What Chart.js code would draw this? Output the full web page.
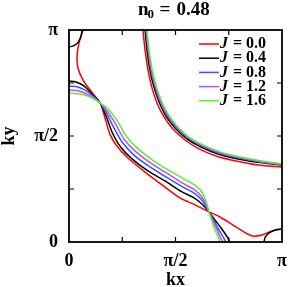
<!DOCTYPE html>
<html>
<head>
<meta charset="utf-8">
<script src="https://cdn.jsdelivr.net/npm/chart.js@4.4.0/dist/chart.umd.min.js"></script>
<style>
  body { margin: 0; background: #fff; }
  #wrap { width: 291px; height: 287px; }
</style>
</head>
<body>
<div id="wrap"><canvas id="fermi"></canvas></div>
<script>
// Fermi surface contours, kx and ky given in units of pi
const jValues = ["0.0", "0.4", "0.8", "1.2", "1.6"];
const lineColors = ["#ff0000", "#000000", "#3355ff", "#c04cff", "#5cf02c"];
const tickNames = { 0: "0", 0.5: "π/2", 1: "π" };
const density = "0.48";

const lowerJ00 = [[0.066,1.0],[0.047,0.939],[0.038,0.877],[0.042,0.821],[0.066,0.764],[0.103,0.712],[0.146,0.656],[0.169,0.585],[0.192,0.509],[0.225,0.453],[0.277,0.396],[0.357,0.330],[0.451,0.259],[0.521,0.208],[0.592,0.175],[0.657,0.142],[0.709,0.118],[0.770,0.080],[0.822,0.047],[0.864,0.028],[0.906,0.033],[0.953,0.052],[1,0.061]];
const upperJ00 = [[0.347,1],[0.357,0.906],[0.371,0.811],[0.390,0.726],[0.413,0.656],[0.446,0.590],[0.488,0.533],[0.545,0.481],[0.610,0.439],[0.690,0.406],[0.784,0.382],[0.887,0.363],[1,0.354]];

const lowerJ04 = [[0,0.759],[0.033,0.755],[0.070,0.736],[0.108,0.698],[0.146,0.656],[0.174,0.594],[0.202,0.519],[0.239,0.453],[0.296,0.392],[0.371,0.335],[0.451,0.288],[0.531,0.236],[0.587,0.208],[0.624,0.179],[0.657,0.142],[0.685,0.104],[0.714,0.066],[0.737,0.033],[0.756,0]];
const upperJ04 = [[0.357,1],[0.366,0.906],[0.380,0.811],[0.399,0.731],[0.423,0.660],[0.455,0.594],[0.498,0.538],[0.554,0.486],[0.620,0.448],[0.700,0.415],[0.793,0.392],[0.897,0.375],[1,0.363]];
const cornerTopJ04 = [[0,0.920],[0.023,0.926],[0.043,0.943],[0.056,0.969],[0.061,1]];
const cornerBottomJ04 = [[0.915,0],[0.922,0.024],[0.940,0.043],[0.968,0.057],[1,0.061]];

const lowerJ08 = [[0,0.736],[0.042,0.731],[0.089,0.708],[0.146,0.656],[0.178,0.604],[0.211,0.538],[0.249,0.472],[0.305,0.410],[0.380,0.354],[0.455,0.307],[0.535,0.259],[0.587,0.231],[0.624,0.198],[0.657,0.142],[0.681,0.099],[0.704,0.057],[0.723,0.024],[0.737,0]];
const upperJ08 = [[0.362,1],[0.371,0.906],[0.385,0.811],[0.404,0.736],[0.427,0.665],[0.460,0.599],[0.502,0.542],[0.559,0.491],[0.624,0.453],[0.704,0.420],[0.798,0.396],[0.901,0.377],[1,0.366]];

const lowerJ12 = [[0,0.717],[0.047,0.712],[0.094,0.693],[0.146,0.656],[0.183,0.613],[0.221,0.552],[0.258,0.486],[0.315,0.425],[0.390,0.368],[0.465,0.321],[0.540,0.274],[0.592,0.245],[0.624,0.212],[0.643,0.179],[0.657,0.142],[0.676,0.099],[0.695,0.057],[0.709,0.024],[0.723,0]];
const upperJ12 = [[0.364,1],[0.373,0.906],[0.387,0.811],[0.406,0.736],[0.430,0.665],[0.462,0.601],[0.505,0.545],[0.561,0.493],[0.627,0.455],[0.707,0.422],[0.800,0.398],[0.903,0.379],[1,0.367]];

const lowerJ16 = [[0,0.703],[0.052,0.698],[0.099,0.684],[0.146,0.656],[0.188,0.623],[0.230,0.566],[0.268,0.500],[0.324,0.439],[0.399,0.382],[0.474,0.335],[0.549,0.292],[0.596,0.264],[0.624,0.236],[0.643,0.193],[0.657,0.142],[0.671,0.099],[0.685,0.057],[0.700,0.024],[0.709,0]];
const upperJ16 = [[0.366,1],[0.376,0.906],[0.390,0.816],[0.408,0.741],[0.432,0.670],[0.465,0.604],[0.507,0.547],[0.563,0.495],[0.629,0.458],[0.709,0.425],[0.803,0.401],[0.906,0.382],[1,0.368]];

const branches = [
  [lowerJ00, upperJ00],
  [lowerJ04, upperJ04, cornerTopJ04, cornerBottomJ04],
  [lowerJ08, upperJ08],
  [lowerJ12, upperJ12],
  [lowerJ16, upperJ16]
];

const serif = "'Liberation Serif', 'DejaVu Serif', serif";

let datasets = [];
branches.forEach((list, i) => {
  list.forEach((pts) => {
    datasets.push({
      label: "J = " + jValues[i],
      data: pts.map((p) => ({ x: p[0], y: p[1] })),
      showLine: true,
      borderColor: lineColors[i],
      borderWidth: 1.5,
      pointRadius: 0,
      tension: 0.3,
      fill: false,
      order: branches.length - i
    });
  });
});

// frame with inward ticks, like the original plot
const framePlugin = {
  id: "frame",
  afterDatasetsDraw(chart) {
    const ctx = chart.ctx;
    const a = chart.chartArea;
    const xs = chart.scales.x, ys = chart.scales.y;
    ctx.save();
    ctx.strokeStyle = "#000";
    ctx.lineWidth = 1.2;
    ctx.beginPath();
    xs.ticks.forEach((t) => {
      if (t.value <= 0 || t.value >= 1) return;
      const px = xs.getPixelForValue(t.value);
      ctx.moveTo(px, a.bottom); ctx.lineTo(px, a.bottom - 5);
      ctx.moveTo(px, a.top); ctx.lineTo(px, a.top + 5);
    });
    ys.ticks.forEach((t) => {
      if (t.value <= 0 || t.value >= 1) return;
      const py = ys.getPixelForValue(t.value);
      ctx.moveTo(a.left, py); ctx.lineTo(a.left + 5, py);
      ctx.moveTo(a.right, py); ctx.lineTo(a.right - 5, py);
    });
    ctx.stroke();
    ctx.lineWidth = 1.8;
    ctx.strokeRect(a.left, a.top, a.right - a.left, a.bottom - a.top);
    ctx.restore();
  }
};

// title n0 = 0.48 centred over the plot area, and the J legend inside it
const textPlugin = {
  id: "texts",
  afterDraw(chart) {
    const ctx = chart.ctx;
    const a = chart.chartArea;
    const cx = (a.left + a.right) / 2;
    ctx.save();
    ctx.fillStyle = "#000";
    ctx.textBaseline = "alphabetic";
    ctx.font = "bold 19px " + serif;
    ctx.fillText("n", cx - 37.5, 15);
    ctx.fillText("=", cx - 16, 15);
    ctx.fillText(density, cx + 1, 15);
    ctx.font = "bold 13px " + serif;
    ctx.fillText("0", cx - 28, 18);

    ctx.textBaseline = "middle";
    jValues.forEach((j, i) => {
      const y = a.top + 14 + i * 14.2;
      const x0 = a.right - 83;
      ctx.strokeStyle = lineColors[i];
      ctx.lineWidth = 1.5;
      ctx.beginPath();
      ctx.moveTo(x0, y); ctx.lineTo(x0 + 20, y);
      ctx.stroke();
      ctx.font = "italic bold 16px " + serif;
      ctx.fillText("J", x0 + 21, y);
      ctx.font = "bold 16px " + serif;
      ctx.fillText("=", x0 + 34, y);
      ctx.fillText(j, x0 + 47, y);
    });
    ctx.restore();
  }
};

const ctx = document.getElementById("fermi").getContext("2d");
const fermiChart = new Chart(ctx, {
  type: "scatter",
  data: { datasets: datasets },
  options: {
    responsive: true,
    maintainAspectRatio: false,
    animation: false,
    layout: { padding: { left: 0, right: 9, top: 30, bottom: 0 } },
    plugins: {
      legend: { display: false },
      tooltip: { enabled: false },
      title: { display: false }
    },
    scales: {
      x: {
        type: "linear",
        min: 0, max: 1,
        afterFit: (s) => { s.height = 45; s.paddingLeft = 0; s.paddingRight = 0; },
        border: { display: false },
        grid: { drawOnChartArea: false, drawTicks: false },
        ticks: {
          stepSize: 0.25, padding: 9, color: "#000", maxRotation: 0, autoSkip: false,
          font: { family: serif, size: 18, weight: "bold" },
          callback: (v) => tickNames[v] ?? ""
        },
        title: {
          display: true, text: "kx", color: "#000", padding: { top: 0, bottom: -2 },
          font: { family: serif, size: 18, weight: "bold", lineHeight: 1 }
        }
      },
      y: {
        type: "linear",
        min: 0, max: 1,
        afterFit: (s) => { s.width = 69; s.paddingTop = 0; s.paddingBottom = 0; },
        border: { display: false },
        grid: { drawOnChartArea: false, drawTicks: false },
        ticks: {
          stepSize: 0.25, padding: 11, color: "#000", autoSkip: false,
          font: { family: serif, size: 18, weight: "bold" },
          callback: (v) => tickNames[v] ?? ""
        },
        title: {
          display: true, text: "ky", color: "#000", padding: 0,
          font: { family: serif, size: 18, weight: "bold", lineHeight: 1 }
        }
      }
    }
  },
  plugins: [framePlugin, textPlugin]
});
</script>
</body>
</html>
